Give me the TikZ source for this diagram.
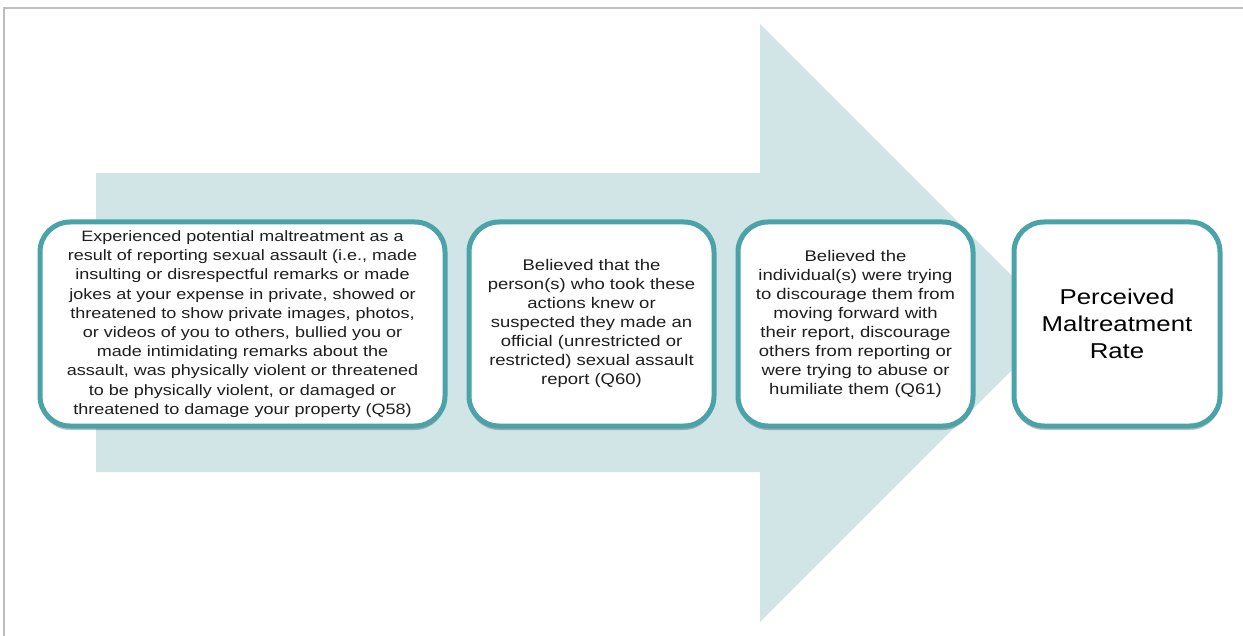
\documentclass[tikz,border=0pt]{standalone}
\usepackage{fontspec}
\setmainfont{Liberation Sans}
\newfontfamily\widesans[FakeStretch=1.2]{Liberation Sans}
\usetikzlibrary{shadows}
\definecolor{arrowfill}{HTML}{D1E4E6}
\definecolor{boxline}{HTML}{4AA3A8}
\definecolor{framegray}{HTML}{BDBDBD}
\definecolor{txt}{HTML}{1E1E1E}
\tikzset{
  stepbox/.style={rectangle, rounded corners=30pt, draw=boxline, line width=5pt,
    fill=white, inner sep=0pt, align=center, minimum height=204pt, text=txt,
    drop shadow={shadow xshift=0pt, shadow yshift=-4pt, opacity=0.25, fill=black}},
  smalltext/.style={font=\widesans\fontsize{15}{19.2}\selectfont},
  midtext/.style={font=\widesans\fontsize{15.4}{19}\selectfont},
  bigtext/.style={font=\widesans\fontsize{21.5}{27}\selectfont, text=black}
}
\begin{document}
\begin{tikzpicture}[x=1pt,y=-1pt]
\useasboundingbox (0,0) rectangle (1243,636);
% frame
\draw[framegray, line width=2pt] (4,637) -- (4,8) -- (1244,8);
% big arrow
\fill[arrowfill] (96,173) -- (760,173) -- (760,24) -- (1059,323) -- (760,622) -- (760,472) -- (96,472) -- cycle;
% boxes
\node[stepbox, smalltext, minimum width=405pt] (b1) at (242.5,324) {Experienced potential maltreatment as a\\result of reporting sexual assault (i.e., made\\insulting or disrespectful remarks or made\\jokes at your expense in private, showed or\\threatened to show private images, photos,\\or videos of you to others, bullied you or\\made intimidating remarks about the\\assault, was physically violent or threatened\\to be physically violent, or damaged or\\threatened to damage your property (Q58)};
\node[stepbox, midtext, minimum width=245pt] (b2) at (591.5,324) {Believed that the\\person(s) who took these\\actions knew or\\suspected they made an\\official (unrestricted or\\restricted) sexual assault\\report (Q60)};
\node[stepbox, midtext, minimum width=235pt] (b3) at (855.5,324) {Believed the\\individual(s) were trying\\to discourage them from\\moving forward with\\their report, discourage\\others from reporting or\\were trying to abuse or\\humiliate them (Q61)};
\node[stepbox, bigtext, minimum width=206pt] (b4) at (1117,324) {Perceived\\Maltreatment\\Rate};
\end{tikzpicture}
\end{document}
